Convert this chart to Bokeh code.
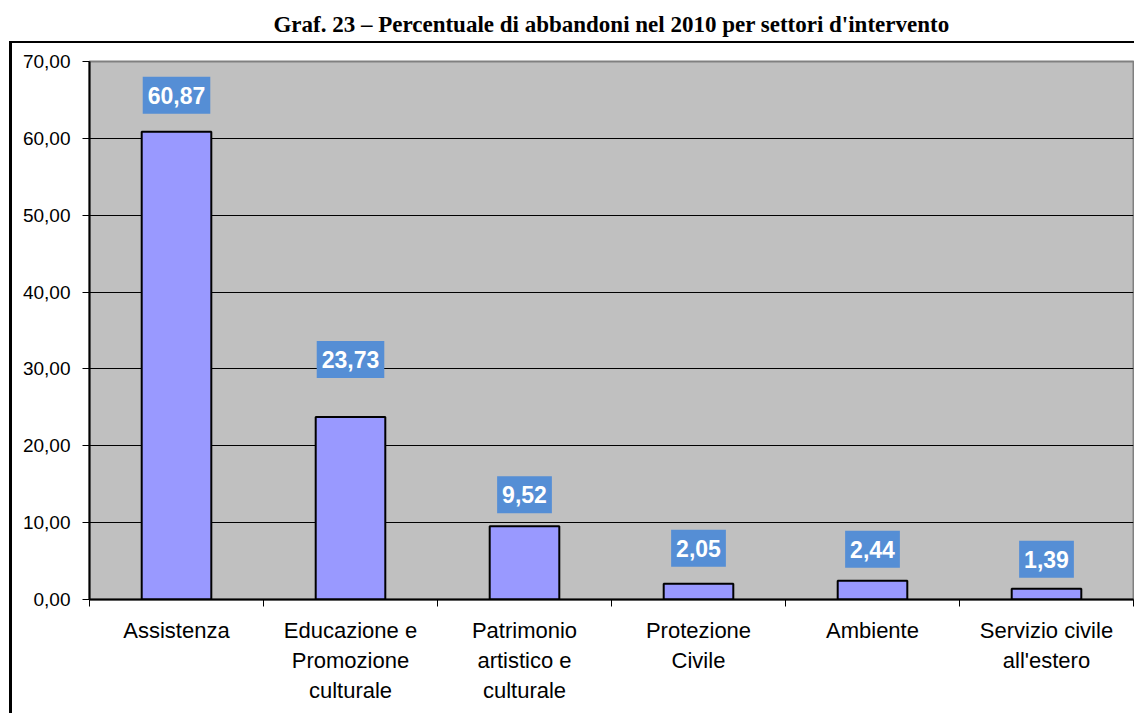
from bokeh.plotting import figure
from bokeh.models import Range1d, FixedTicker, Label
from bokeh.embed import file_html
from bokeh.resources import INLINE

title_text = "Graf. 23 – Percentuale di abbandoni nel 2010 per settori d'intervento"
categories = [
    "Assistenza",
    "Educazione e\nPromozione\nculturale",
    "Patrimonio\nartistico e\nculturale",
    "Protezione\nCivile",
    "Ambiente",
    "Servizio civile\nall'estero",
]
values = [60.87, 23.73, 9.52, 2.05, 2.44, 1.39]
y_ticks = [0, 10, 20, 30, 40, 50, 60, 70]

# pixel gap between each bar top and its value box (styling)
label_gaps = [18, 39, 13, 17, 13, 11]

def it_fmt(v):
    return f"{v:.2f}".replace(".", ",")

x_centers = [i + 0.5 for i in range(len(categories))]
x_bounds = list(range(len(categories) + 1))

W, H = 1134, 713
ML, MT, MR, MB = 89, 61, 1, 114

p = figure(width=W, height=H, output_backend="svg", toolbar_location=None,
           x_range=Range1d(0, len(categories)), y_range=Range1d(0, 70),
           min_border_left=ML, min_border_right=MR, min_border_top=MT, min_border_bottom=MB)

# title above the chart area
p.title.text = title_text
p.title.align = "center"
p.title.text_font = "Liberation Serif"
p.title.text_font_style = "bold"
p.title.text_font_size = "23px"
p.title.text_color = "black"
p.title.padding = dict(bottom=20)

p.background_fill_color = "#C0C0C0"
p.border_fill_color = None
p.outline_line_color = "#808080"
p.outline_line_width = 2

# outer chart-area border (left and top edges visible, as in the source page)
p.styles = {
    "background-color": "white",
    "background-image": "linear-gradient(#000, #000), linear-gradient(#000, #000)",
    "background-size": "3px 100%, 100% 2px",
    "background-position": "9px 41px, 9px 41px",
    "background-repeat": "no-repeat",
}

p.vbar(x=x_centers, top=values, width=0.4, bottom=0,
       fill_color="#9999FF", line_color="black", line_width=2)

# y axis
p.yaxis.ticker = FixedTicker(ticks=y_ticks)
p.yaxis.major_label_overrides = {t: it_fmt(t) for t in y_ticks}
p.yaxis.major_tick_out = 7
p.yaxis.major_tick_in = 0
p.yaxis.major_tick_line_color = "black"
p.yaxis.minor_tick_line_color = None
p.yaxis.axis_line_color = "black"
p.yaxis.axis_line_width = 2
p.yaxis.major_label_text_font = "Liberation Sans"
p.yaxis.major_label_text_font_size = "19px"
p.yaxis.major_label_text_color = "black"
p.yaxis.major_label_standoff = 12

p.ygrid.ticker = FixedTicker(ticks=y_ticks)
p.ygrid.grid_line_color = "black"
p.ygrid.grid_line_width = 1
p.xgrid.grid_line_color = None

# x axis: labels at centers, ticks between categories
p.xaxis.ticker = FixedTicker(ticks=x_centers, minor_ticks=x_bounds)
p.xaxis.major_label_overrides = {x: c for x, c in zip(x_centers, categories)}
p.xaxis.major_tick_out = 0
p.xaxis.major_tick_in = 0
p.xaxis.minor_tick_out = 7
p.xaxis.minor_tick_in = 0
p.xaxis.minor_tick_line_color = "black"
p.xaxis.minor_tick_line_width = 1
p.xaxis.axis_line_color = "black"
p.xaxis.axis_line_width = 2
p.xaxis.major_label_text_font = "Liberation Sans"
p.xaxis.major_label_text_font_size = "22px"
p.xaxis.major_label_text_color = "black"
p.xaxis.major_label_standoff = 11

# value labels
for x, v, g in zip(x_centers, values, label_gaps):
    p.add_layout(Label(x=x, y=v, text=it_fmt(v), text_align="center", text_baseline="bottom",
                       y_offset=g, text_color="white", text_font="Liberation Sans",
                       text_font_style="bold", text_font_size="23px",
                       background_fill_color="#558ED5", padding=(5, 10)))

open("out.html", "w").write(file_html(p, INLINE))
